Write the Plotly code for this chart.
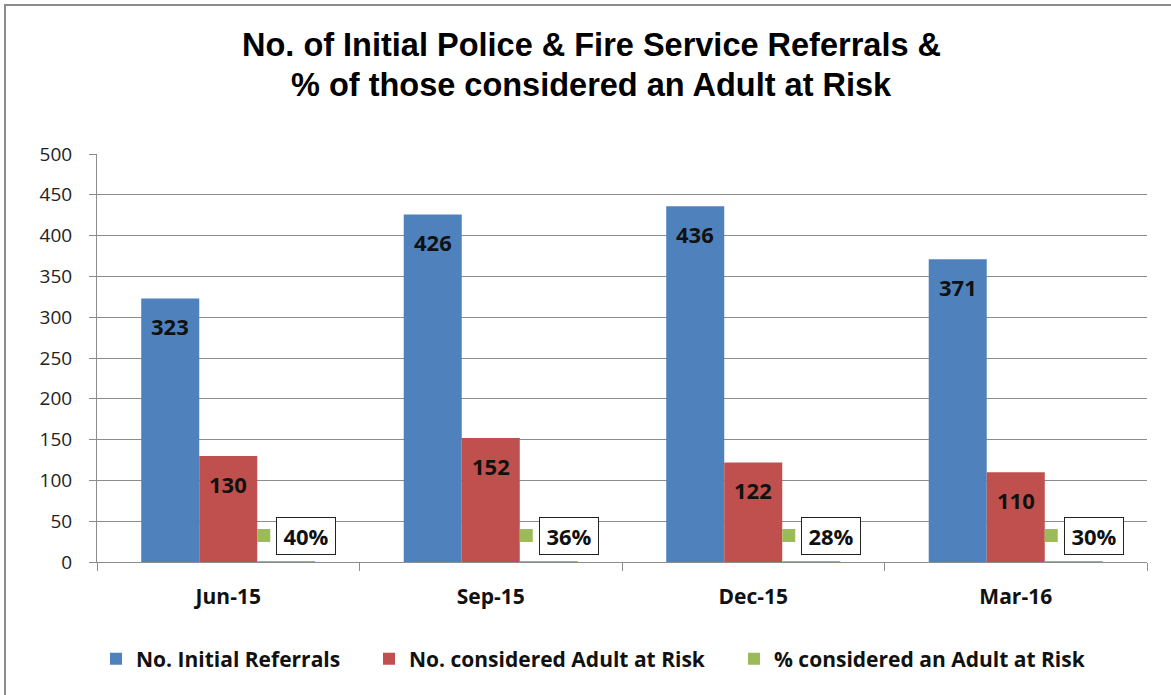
import plotly.graph_objects as go

categories = ["Jun-15", "Sep-15", "Dec-15", "Mar-16"]
initial_referrals = [323, 426, 436, 371]
adult_at_risk = [130, 152, 122, 110]
pct_adult_at_risk = [0.40, 0.36, 0.28, 0.30]

series_names = ["No. Initial Referrals", "No. considered Adult at Risk", "% considered an Adult at Risk"]
colors = ["#4F81BD", "#C0504D", "#9BBB59"]
title_lines = ["No. of Initial Police & Fire Service Referrals &",
               "% of those considered an Adult at Risk"]

W, H = 1171, 695
L, R, T, B = 97, 24, 154, 133
plot_h = H - T - B
plot_w = W - L - R

LABEL_FONT = "Open Sans, Lato, sans-serif"
GRID = "#8C8C8C"

# legend entry positions (left edge of each entry, px)
legend_left_px = [96, 369, 734]
legend_ids = ["legend", "legend2", "legend3"]

fig = go.Figure()
for name, vals, col, lg in zip(series_names, [initial_referrals, adult_at_risk, pct_adult_at_risk], colors, legend_ids):
    fig.add_trace(go.Bar(x=categories, y=vals, name=name, marker=dict(color=col, line=dict(width=0)),
                         hoverinfo="x+y", legend=lg))

annotations = []
shapes = []
bar_px = plot_w / len(categories) * (1 - 0.337) / 3

for i, c in enumerate(categories):
    annotations.append(dict(x=c, y=initial_referrals[i], xref="x", yref="y", xshift=-bar_px, yshift=-28,
                            text=f"<b>{initial_referrals[i]}</b>", showarrow=False,
                            font=dict(family=LABEL_FONT, size=22, color="#111"), xanchor="center", yanchor="middle"))
    annotations.append(dict(x=c, y=adult_at_risk[i], xref="x", yref="y", xshift=0, yshift=-28,
                            text=f"<b>{adult_at_risk[i]}</b>", showarrow=False,
                            font=dict(family=LABEL_FONT, size=22, color="#111"), xanchor="center", yanchor="middle"))
    annotations.append(dict(x=c, y=pct_adult_at_risk[i], xref="x", yref="y", xshift=78, yshift=26,
                            text=f"<b>{round(pct_adult_at_risk[i]*100)}%</b>", showarrow=False,
                            font=dict(family=LABEL_FONT, size=22, color="#111"),
                            bgcolor="white", bordercolor="#222", borderwidth=1, borderpad=0,
                            width=58, height=36, xanchor="center", yanchor="middle"))
    shapes.append(dict(type="rect", xref="x", yref="y", xsizemode="pixel", ysizemode="pixel",
                       xanchor=i, yanchor=0, x0=29, x1=42, y0=20, y1=33,
                       fillcolor=colors[2], line=dict(width=0)))

# title lines
for txt, ypx in zip(title_lines, [45, 85]):
    annotations.append(dict(x=(591 - L) / plot_w, y=(H - B - ypx) / plot_h, xref="paper", yref="paper",
                            text=f"<b>{txt}</b>", showarrow=False,
                            font=dict(family="Liberation Sans, Arial, sans-serif", size=32.5, color="#000"),
                            xanchor="center", yanchor="middle"))

# outer chart frame
shapes.append(dict(type="rect", xref="paper", yref="paper",
                   x0=(5 - L) / plot_w, x1=(W + 10 - L) / plot_w,
                   y0=(H - B - (H + 10)) / plot_h, y1=(H - B - 5) / plot_h,
                   line=dict(color="#8C8C8C", width=2), fillcolor="rgba(0,0,0,0)", layer="below"))

legend_style = dict(orientation="h", xanchor="left", y=(H - B - 659) / plot_h, yanchor="middle",
                    font=dict(family=LABEL_FONT, size=21, color="#111", weight="bold"),
                    itemwidth=30, bgcolor="rgba(0,0,0,0)")

fig.update_layout(
    width=W, height=H,
    margin=dict(l=L, r=R, t=T, b=B),
    paper_bgcolor="white", plot_bgcolor="white",
    barmode="group", bargap=0.337, bargroupgap=0,
    showlegend=True,
    annotations=annotations,
    shapes=shapes,
)
for lg, px in zip(legend_ids, legend_left_px):
    fig.update_layout({lg: dict(legend_style, x=(px - L) / plot_w)})

fig.update_xaxes(type="category", tickson="boundaries", ticks="outside", ticklen=8, tickcolor=GRID,
                 showline=True, linecolor=GRID, linewidth=1, showgrid=False,
                 tickfont=dict(family=LABEL_FONT, size=21, color="#111", weight="bold"), ticklabelstandoff=16)
fig.update_yaxes(range=[0, 500], dtick=50, ticks="outside", ticklen=7, tickcolor=GRID,
                 showline=True, linecolor=GRID, linewidth=1, showgrid=True, gridcolor=GRID, gridwidth=1,
                 zeroline=False, tickfont=dict(family=LABEL_FONT, size=19, color="#222"),
                 ticklabelstandoff=13)

fig.write_html("out.html", config={"displayModeBar": False},
               post_script="document.body.style.margin='0';document.body.style.padding='0';")
